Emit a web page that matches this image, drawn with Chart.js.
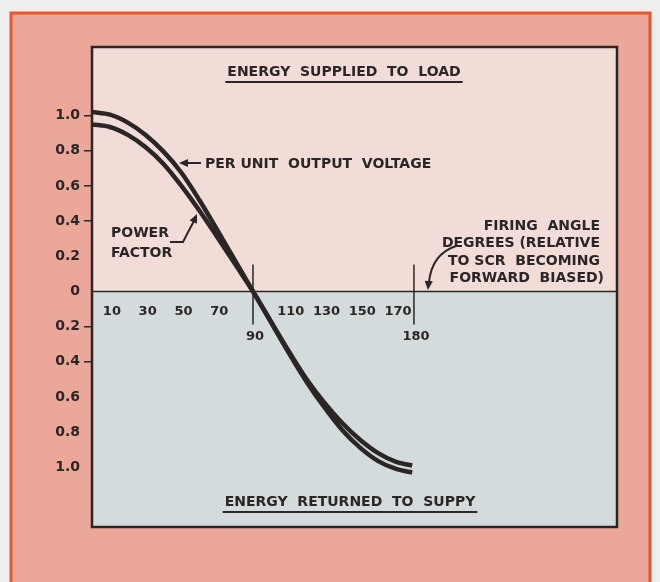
<!DOCTYPE html>
<html>
<head>
<meta charset="utf-8">
<script src="https://cdn.jsdelivr.net/npm/chart.js@4.4.1/dist/chart.umd.min.js"></script>
<style>
  html, body { margin: 0; padding: 0; background: #efefed; }
  #wrap { width: 660px; height: 582px; }
</style>
</head>
<body>
<div id="wrap"><canvas id="scrChart" width="660" height="582"></canvas></div>
<script>
// firing angle (degrees) and the two curves read against it
const angles = [0, 10, 20, 30, 40, 50, 60, 70, 80, 90, 100, 110, 120, 130, 140, 150, 160, 170, 179];
const outputVoltage = [1.02, 1.005, 0.96, 0.89, 0.795, 0.675, 0.52, 0.35, 0.175, 0.0, -0.175, -0.35, -0.515, -0.66, -0.79, -0.89, -0.965, -1.01, -1.03];
const powerFactor = [0.95, 0.935, 0.89, 0.82, 0.725, 0.60, 0.46, 0.31, 0.155, 0.0, -0.17, -0.34, -0.50, -0.635, -0.75, -0.845, -0.92, -0.97, -0.99];

// axis labelling
const yTickValues = [1.0, 0.8, 0.6, 0.4, 0.2, 0, -0.2, -0.4, -0.6, -0.8, -1.0];
const yTickLabels = ['1.0', '0.8', '0.6', '0.4', '0.2', '0', '0.2', '0.4', '0.6', '0.8', '1.0'];
const yTickDashed = [true, true, true, true, false, false, true, true, false, false, false];
const xTickRow = [10, 30, 50, 70, 110, 130, 150, 170];
const xTickMarked = [90, 180];

const INK = '#2b2626';
const LETTER = '"DejaVu Sans", "Liberation Sans", sans-serif';

function punto(v, i) { return { x: angles[i], y: v }; }

function seta(ctx, x, y, ang, size) {
    ctx.save();
    ctx.translate(x, y);
    ctx.rotate(ang);
    ctx.beginPath();
    ctx.moveTo(0, 0);
    ctx.lineTo(-size, -size * 0.45);
    ctx.lineTo(-size, size * 0.45);
    ctx.closePath();
    ctx.fill();
    ctx.restore();
}

function sublinhado(ctx, text, cx, y) {
    const w = ctx.measureText(text).width;
    ctx.fillText(text, cx, y);
    ctx.beginPath();
    ctx.lineWidth = 2;
    ctx.moveTo(cx - w / 2 - 2, y + 10);
    ctx.lineTo(cx + w / 2 + 2, y + 10);
    ctx.stroke();
}

// page, frame and the two shaded half-planes
const fundo = {
    id: 'fundo',
    beforeDraw(chart) {
        const { ctx, chartArea: a, scales: { y } } = chart;
        const y0 = y.getPixelForValue(0);
        ctx.save();
        ctx.fillStyle = '#efefed';
        ctx.fillRect(0, 0, chart.width, chart.height);
        ctx.fillStyle = '#eba79a';
        ctx.fillRect(11, 13, 639, chart.height);
        ctx.strokeStyle = '#e8542c';
        ctx.lineWidth = 3;
        ctx.beginPath();
        ctx.moveTo(11, chart.height + 5);
        ctx.lineTo(11, 13);
        ctx.lineTo(650, 13);
        ctx.lineTo(650, chart.height + 5);
        ctx.stroke();
        ctx.fillStyle = '#f2dcd8';
        ctx.fillRect(a.left, a.top, a.right - a.left, y0 - a.top);
        ctx.fillStyle = '#d4dbdc';
        ctx.fillRect(a.left, y0, a.right - a.left, a.bottom - y0);
        ctx.restore();
    }
};

// lettering, zero line, angle marks and leaders
const legendas = {
    id: 'legendas',
    afterDraw(chart) {
        const { ctx, chartArea: a, scales: { x, y } } = chart;
        const y0 = y.getPixelForValue(0);
        ctx.save();
        ctx.strokeStyle = INK;
        ctx.fillStyle = INK;

        ctx.lineWidth = 2.5;
        ctx.strokeRect(a.left, a.top, a.right - a.left, a.bottom - a.top);
        ctx.lineWidth = 1.5;
        ctx.beginPath();
        ctx.moveTo(a.left, y0);
        ctx.lineTo(a.right, y0);
        ctx.stroke();

        ctx.font = 'bold 13px ' + LETTER;
        ctx.textAlign = 'center';
        ctx.textBaseline = 'middle';
        xTickRow.forEach(v => ctx.fillText(String(v), x.getPixelForValue(v) + 2, y0 + 20));
        ctx.lineWidth = 1.5;
        xTickMarked.forEach(v => {
            const px = x.getPixelForValue(v);
            ctx.beginPath();
            ctx.moveTo(px, y0 - 27);
            ctx.lineTo(px, y0 + 33);
            ctx.stroke();
            ctx.fillText(String(v), px + 2, y0 + 45);
        });

        ctx.font = 'bold 14px ' + LETTER;
        sublinhado(ctx, 'ENERGY  SUPPLIED  TO  LOAD', 344, 72);
        sublinhado(ctx, 'ENERGY  RETURNED  TO  SUPPY', 350, 502);

        ctx.textAlign = 'left';
        ctx.fillText('PER UNIT  OUTPUT  VOLTAGE', 205, 164);
        ctx.lineWidth = 2;
        ctx.beginPath();
        ctx.moveTo(201, 163);
        ctx.lineTo(186, 163);
        ctx.stroke();
        seta(ctx, 179, 163, Math.PI, 9);

        ctx.fillText('POWER', 111, 233);
        ctx.fillText('FACTOR', 111, 253);
        ctx.beginPath();
        ctx.moveTo(170, 242);
        ctx.lineTo(183, 242);
        ctx.quadraticCurveTo(188, 232, 194, 221);
        ctx.stroke();
        seta(ctx, 197, 214, -1.15, 9);

        ctx.textAlign = 'right';
        ctx.fillText('FIRING  ANGLE', 600, 226);
        ctx.fillText('DEGREES (RELATIVE', 600, 243);
        ctx.fillText('TO SCR  BECOMING', 600, 261);
        ctx.fillText('FORWARD  BIASED)', 604, 278);
        ctx.beginPath();
        ctx.moveTo(456, 246);
        ctx.quadraticCurveTo(432, 254, 429, 282);
        ctx.stroke();
        seta(ctx, 428, 290, Math.PI / 2 + 0.08, 9);
        ctx.restore();
    }
};

const ctx = document.getElementById('scrChart').getContext('2d');
new Chart(ctx, {
    type: 'line',
    data: {
        datasets: [{
            label: 'Per unit output voltage',
            data: outputVoltage.map(punto),
            borderColor: INK,
            borderWidth: 4.5,
            pointRadius: 0,
            cubicInterpolationMode: 'monotone',
            fill: false
        }, {
            label: 'Power factor',
            data: powerFactor.map(punto),
            borderColor: INK,
            borderWidth: 4.5,
            pointRadius: 0,
            cubicInterpolationMode: 'monotone',
            fill: false
        }]
    },
    options: {
        responsive: false,
        animation: false,
        events: [],
        layout: { padding: { left: 40, right: 43, top: 47, bottom: 55 } },
        plugins: { legend: { display: false }, tooltip: { enabled: false } },
        scales: {
            x: {
                type: 'linear',
                min: 0,
                max: 293.5,
                display: false
            },
            y: {
                type: 'linear',
                min: -1.34,
                max: 1.39,
                afterBuildTicks: scale => { scale.ticks = yTickValues.map(v => ({ value: v })); },
                afterFit: scale => { scale.width = 52; },
                border: { display: false },
                grid: {
                    drawOnChartArea: false,
                    drawTicks: true,
                    tickLength: 8,
                    lineWidth: 1.5,
                    color: c => yTickDashed[c.index] ? INK : 'rgba(0,0,0,0)'
                },
                ticks: {
                    padding: 4,
                    color: INK,
                    font: { family: 'DejaVu Sans', size: 14, weight: 'bold' },
                    callback: (v, i) => yTickLabels[i]
                }
            }
        }
    },
    plugins: [fundo, legendas]
});
</script>
</body>
</html>
